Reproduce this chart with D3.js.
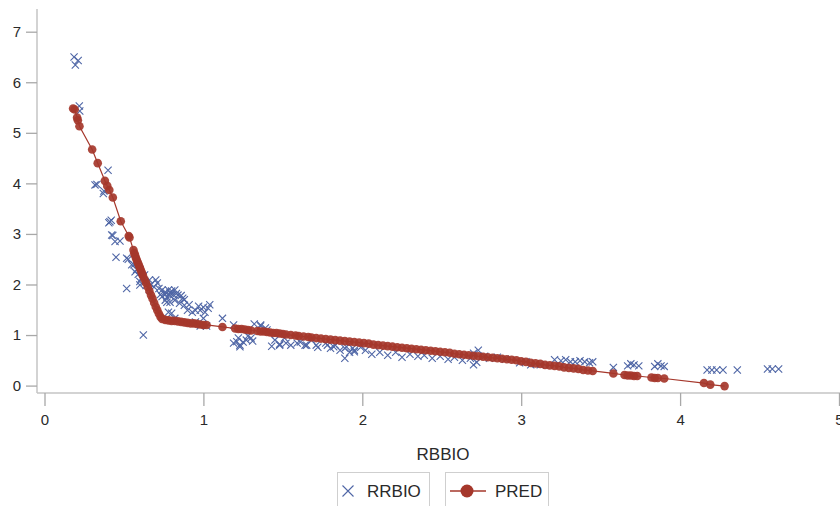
<!DOCTYPE html>
<html>
<head>
<meta charset="utf-8">
<script src="https://cdn.jsdelivr.net/npm/d3@7"></script>
<style>
  body { margin: 0; background: #fff; }
  svg { display: block; font-family: "Liberation Sans", Arial, sans-serif; }
</style>
</head>
<body>
<svg id="chart" width="840" height="506"></svg>
<script>
// observed values (RRBIO) as [RBBIO, RRBIO]
var rrbio = [
  [0.186,6.50],[0.212,6.43],[0.194,6.34],[0.219,5.53],[0.222,5.43],[0.40,4.26],[0.33,3.98],[0.374,3.85],
  [0.318,3.97],[0.37,3.80],[0.412,3.24],[0.42,3.27],[0.405,3.22],[0.423,2.98],[0.43,2.97],[0.444,2.85],
  [0.475,2.86],[0.45,2.54],[0.517,2.52],[0.527,2.50],[0.549,2.39],[0.563,2.39],[0.57,2.25],[0.60,2.06],
  [0.60,1.99],[0.517,1.92],[0.622,1.00],
  [0.58,2.30],[0.59,2.20],[0.61,2.12],[0.62,2.15],[0.63,2.05],[0.64,1.98],[0.60,2.29],[0.63,2.19],
  [0.66,2.09],[0.66,1.90],[0.67,2.00],[0.69,1.95],[0.70,2.09],[0.71,2.03],[0.72,1.92],[0.73,1.80],
  [0.74,1.89],[0.74,1.76],[0.76,1.85],[0.76,1.80],[0.77,1.75],[0.77,1.65],[0.76,1.69],[0.78,1.89],
  [0.79,1.83],[0.79,1.78],[0.79,1.65],[0.80,1.87],[0.81,1.80],[0.82,1.89],[0.82,1.69],[0.83,1.82],
  [0.84,1.79],[0.85,1.63],[0.86,1.78],[0.87,1.73],[0.88,1.70],[0.88,1.59],[0.90,1.49],[0.91,1.60],
  [0.93,1.45],[0.95,1.49],[0.97,1.57],[0.98,1.49],[1.01,1.45],[1.03,1.53],[1.00,1.33],[0.95,1.26],
  [0.98,1.18],[1.02,1.18],[0.80,1.43],[0.82,1.33],[0.78,1.45],[1.00,1.55],[1.04,1.60],
  [1.12,1.33],[1.19,1.20],[1.21,0.87],[1.22,0.94],[1.23,0.77],[1.23,0.80],[1.25,0.86],[1.27,0.90],
  [1.28,0.98],[1.30,0.94],[1.31,0.88],[1.19,0.84],[1.32,1.22],[1.36,1.20],[1.36,1.18],[1.39,1.14],
  [1.40,1.10],[1.43,0.78],[1.45,0.90],[1.48,0.80],[1.48,0.82],[1.51,0.94],[1.52,0.84],[1.55,0.80],
  [1.59,0.84],[1.61,0.86],[1.64,0.80],[1.65,0.80],[1.68,0.90],[1.71,0.80],[1.72,0.76],[1.77,0.84],
  [1.78,0.80],[1.80,0.74],[1.82,0.77],[1.83,0.80],[1.86,0.70],[1.89,0.74],[1.89,0.54],[1.90,0.77],
  [1.92,0.66],[1.94,0.74],[1.95,0.70],[1.95,0.67],[1.99,0.76],
  [2.02,0.70],[2.06,0.62],[2.11,0.66],[2.16,0.60],[2.21,0.66],[2.25,0.56],[2.30,0.62],[2.35,0.58],
  [2.39,0.60],[2.44,0.54],[2.49,0.58],[2.54,0.52],[2.58,0.56],[2.63,0.50],[2.68,0.54],[2.70,0.64],
  [2.70,0.41],[2.72,0.46],[2.73,0.70],[2.77,0.58],[2.80,0.54],[2.85,0.56],[2.90,0.52],
  [2.99,0.45],[3.03,0.47],[3.06,0.41],[3.09,0.43],[3.12,0.41],[3.21,0.51],[3.25,0.49],[3.28,0.51],
  [3.31,0.47],[3.34,0.47],[3.37,0.49],[3.40,0.47],[3.43,0.45],[3.45,0.47],
  [3.58,0.36],[3.67,0.39],[3.69,0.43],[3.71,0.41],[3.74,0.39],[3.84,0.38],[3.86,0.43],[3.88,0.39],
  [3.90,0.38],[4.17,0.31],[4.20,0.31],[4.23,0.31],[4.27,0.31],[4.36,0.31],[4.55,0.33],[4.58,0.33],
  [4.62,0.33]
];

// predicted values (PRED) as [RBBIO, PRED]
var pred = [
  [0.18,5.48],[0.19,5.46],[0.205,5.30],[0.21,5.25],[0.22,5.13],[0.30,4.67],[0.335,4.40],[0.38,4.05],
  [0.395,3.95],[0.408,3.87],[0.43,3.72],[0.48,3.25],[0.53,2.96],[0.535,2.93],[0.56,2.68],[0.565,2.62],
  [0.57,2.58],[0.575,2.53],[0.58,2.49],[0.585,2.45],[0.59,2.41],[0.595,2.37],[0.60,2.33],[0.605,2.29],
  [0.61,2.25],[0.615,2.21],[0.62,2.17],[0.63,2.10],[0.64,2.03],[0.65,1.95],[0.66,1.87],[0.67,1.79],
  [0.68,1.72],[0.69,1.64],[0.70,1.56],[0.71,1.49],[0.72,1.42],[0.73,1.36],[0.74,1.32],[0.76,1.30],
  [0.78,1.29],[0.80,1.28],[0.82,1.28],[0.84,1.27],[0.86,1.26],[0.88,1.25],[0.90,1.24],[0.92,1.23],
  [0.94,1.23],[0.96,1.22],[0.98,1.21],[1.00,1.20],[1.02,1.20],[1.12,1.16],[1.20,1.13],[1.22,1.12],
  [1.24,1.12],[1.26,1.11],[1.28,1.10],[1.30,1.09],[1.34,1.08],[1.36,1.07],[1.38,1.07],[1.40,1.06],
  [1.42,1.05],[1.44,1.04],[1.46,1.04],[1.48,1.03],[1.50,1.02],[1.52,1.01],[1.55,1.00],[1.58,0.99],
  [1.60,0.98],[1.63,0.97],[1.66,0.96],[1.68,0.95],[1.71,0.94],[1.74,0.93],[1.77,0.92],[1.80,0.91],
  [1.83,0.90],[1.86,0.89],[1.89,0.88],[1.92,0.87],[1.95,0.86],[1.98,0.85],[2.01,0.84],[2.04,0.83],
  [2.07,0.81],[2.10,0.80],[2.13,0.79],[2.16,0.78],[2.19,0.77],[2.22,0.76],[2.25,0.75],[2.28,0.74],
  [2.31,0.73],[2.34,0.72],[2.37,0.71],[2.40,0.70],[2.43,0.69],[2.46,0.68],[2.49,0.67],[2.52,0.66],
  [2.55,0.65],[2.58,0.63],[2.61,0.62],[2.64,0.61],[2.67,0.60],[2.70,0.59],[2.73,0.58],[2.76,0.57],
  [2.79,0.56],[2.82,0.55],[2.85,0.54],[2.88,0.53],[2.91,0.52],[2.94,0.51],[2.97,0.50],[3.00,0.48],
  [3.03,0.47],[3.06,0.45],[3.09,0.44],[3.12,0.43],[3.15,0.41],[3.18,0.40],[3.21,0.39],[3.24,0.38],
  [3.27,0.36],[3.30,0.35],[3.33,0.34],[3.36,0.33],[3.39,0.31],[3.42,0.30],[3.45,0.29],[3.58,0.24],
  [3.65,0.21],[3.67,0.20],[3.69,0.20],[3.71,0.19],[3.73,0.19],[3.82,0.16],[3.84,0.15],[3.86,0.15],
  [3.90,0.14],[4.15,0.05],[4.19,0.02],[4.28,-0.01]
];

var xTicks = [0, 1, 2, 3, 4, 5];
var yTicks = [0, 1, 2, 3, 4, 5, 6, 7];
var xLabel = "RBBIO";
var legendNames = ["RRBIO", "PRED"];

var blue = "#4f66a6";
var red = "#a5372b";
var grey = "#c4c4c4";

var svg = d3.select("#chart");

var x = d3.scaleLinear().domain([0, 5]).range([44.5, 839]);
var y = d3.scaleLinear().domain([0, 7]).range([385.6, 31.7]);

// frame lines
svg.append("line").attr("x1", 37).attr("x2", 37).attr("y1", 9).attr("y2", 393)
  .attr("stroke", grey).attr("stroke-width", 1.5);
svg.append("line").attr("x1", 37).attr("x2", 840).attr("y1", 393).attr("y2", 393)
  .attr("stroke", grey).attr("stroke-width", 1.5);

var yAxis = svg.append("g")
  .attr("transform", "translate(37,0)")
  .call(d3.axisLeft(y).tickValues(yTicks).tickFormat(d3.format("d")).tickSize(11).tickPadding(5));
var xAxis = svg.append("g")
  .attr("transform", "translate(0,393)")
  .call(d3.axisBottom(x).tickValues(xTicks).tickFormat(d3.format("d")).tickSize(13).tickPadding(8));

[xAxis, yAxis].forEach(function(a) {
  a.select(".domain").remove();
  a.selectAll(".tick line").attr("stroke", "#a8a8a8").attr("stroke-width", 1.3);
  a.selectAll(".tick text").attr("fill", "#2a2a2a").style("font-size", "15px");
});

svg.append("text")
  .attr("x", 443).attr("y", 460)
  .attr("text-anchor", "middle")
  .attr("fill", "#2a2a2a")
  .style("font-size", "17px")
  .text(xLabel);

// X markers
function cross(cx, cy, s) {
  return "M" + (cx - s) + "," + (cy - s) + "L" + (cx + s) + "," + (cy + s) +
         "M" + (cx - s) + "," + (cy + s) + "L" + (cx + s) + "," + (cy - s);
}

svg.append("g")
  .selectAll("path")
  .data(rrbio)
  .join("path")
  .attr("d", d => cross(x(d[0]), y(d[1]), 3.6))
  .attr("stroke", blue)
  .attr("stroke-width", 1.1)
  .attr("fill", "none");

svg.append("path")
  .datum(pred)
  .attr("d", d3.line().x(d => x(d[0])).y(d => y(d[1])))
  .attr("fill", "none")
  .attr("stroke", red)
  .attr("stroke-width", 1.2);

svg.append("g")
  .selectAll("circle")
  .data(pred)
  .join("circle")
  .attr("cx", d => x(d[0]))
  .attr("cy", d => y(d[1]))
  .attr("r", 4.3)
  .attr("fill", red)
  .attr("fill-opacity", 0.92);

// legend
var leg = svg.append("g");
leg.append("rect").attr("x", 337.5).attr("y", 472.5).attr("width", 92).attr("height", 40)
  .attr("fill", "none").attr("stroke", "#cfcfcf");
leg.append("path").attr("d", cross(348, 491, 5.5)).attr("stroke", blue).attr("stroke-width", 1.1);
leg.append("text").attr("x", 367).attr("y", 497).attr("fill", "#2a2a2a")
  .style("font-size", "17px").text(legendNames[0]);

leg.append("rect").attr("x", 445.5).attr("y", 472.5).attr("width", 103).attr("height", 40)
  .attr("fill", "none").attr("stroke", "#cfcfcf");
leg.append("line").attr("x1", 450).attr("x2", 486).attr("y1", 491).attr("y2", 491)
  .attr("stroke", red).attr("stroke-width", 1.5);
leg.append("circle").attr("cx", 467).attr("cy", 491).attr("r", 6.5).attr("fill", red);
leg.append("text").attr("x", 495).attr("y", 497).attr("fill", "#2a2a2a")
  .style("font-size", "17px").text(legendNames[1]);
</script>
</body>
</html>
